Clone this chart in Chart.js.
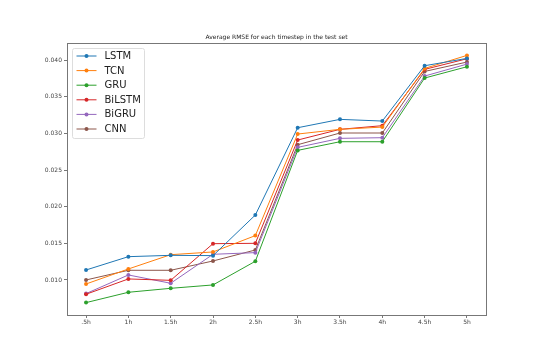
<!DOCTYPE html>
<html>
<head>
<meta charset="utf-8">
<script src="https://cdn.jsdelivr.net/npm/chart.js@4"></script>
<style>
  html, body { margin: 0; padding: 0; background: #fff; }
  #wrap { width: 540px; height: 360px; }
</style>
</head>
<body>
<div id="wrap"><canvas id="chart" width="540" height="360"></canvas></div>
<script>
// categories
const timesteps = ['.5h', '1h', '1.5h', '2h', '2.5h', '3h', '3.5h', '4h', '4.5h', '5h'];
const yTicks = [0.010, 0.015, 0.020, 0.025, 0.030, 0.035, 0.040];
const chartTitle = 'Average RMSE for each timestep in the test set';

// series values
const lstm   = [0.01136, 0.01318, 0.01336, 0.01332, 0.01886, 0.03077, 0.03191, 0.03168, 0.03923, 0.04023];
const tcn    = [0.00945, 0.01150, 0.01345, 0.01382, 0.01605, 0.02991, 0.03055, 0.03086, 0.03886, 0.04064];
const gru    = [0.00691, 0.00832, 0.00886, 0.00932, 0.01255, 0.02768, 0.02886, 0.02886, 0.03755, 0.03909];
const bilstm = [0.00805, 0.01014, 0.00995, 0.01495, 0.01500, 0.02909, 0.03055, 0.03105, 0.03873, 0.04018];
const bigru  = [0.00814, 0.01068, 0.00955, 0.01350, 0.01373, 0.02809, 0.02932, 0.02941, 0.03782, 0.03945];
const cnn    = [0.01000, 0.01132, 0.01132, 0.01259, 0.01409, 0.02845, 0.03005, 0.03005, 0.03845, 0.03973];

const seriesNames = ['LSTM', 'TCN', 'GRU', 'BiLSTM', 'BiGRU', 'CNN'];
const seriesValues = [lstm, tcn, gru, bilstm, bigru, cnn];
const colors = ['#1f77b4', '#ff7f0e', '#2ca02c', '#d62728', '#9467bd', '#8c564b'];

const datasets = seriesNames.map((name, i) => ({
  label: name,
  data: seriesValues[i].map((v, j) => ({ x: j, y: v })),
  borderColor: colors[i],
  backgroundColor: colors[i],
  borderWidth: 1,
  pointRadius: 2,
  pointBorderWidth: 0,
  pointBackgroundColor: colors[i],
  tension: 0
}));

// draws the title (centred over the plot), the box around the plot and the legend inside it
const framePlugin = {
  id: 'frame',
  afterDraw(chart) {
    const ctx = chart.ctx;
    const a = chart.chartArea;
    ctx.save();

    ctx.fillStyle = '#222';
    ctx.font = '6px "DejaVu Sans"';
    ctx.textAlign = 'center';
    ctx.textBaseline = 'middle';
    ctx.fillText(chartTitle, (a.left + a.right) / 2, a.top - 6);

    ctx.strokeStyle = '#777';
    ctx.lineWidth = 1;
    ctx.strokeRect(Math.round(a.left) + 0.5, Math.round(a.top) + 0.5,
      Math.round(a.right - a.left), Math.round(a.bottom - a.top));

    // legend
    const lx = a.left + 5.5, ly = a.top + 5.5, lw = 72, lh = 90;
    ctx.fillStyle = 'rgba(255,255,255,0.8)';
    ctx.strokeStyle = '#ddd';
    ctx.beginPath();
    ctx.roundRect(lx, ly, lw, lh, 2);
    ctx.fill();
    ctx.stroke();
    ctx.font = '10px "DejaVu Sans"';
    ctx.textAlign = 'left';
    ctx.textBaseline = 'middle';
    chart.data.datasets.forEach((ds, i) => {
      const y = ly + 7.5 + i * 14.6;
      ctx.strokeStyle = ds.borderColor;
      ctx.lineWidth = 1;
      ctx.beginPath();
      ctx.moveTo(lx + 4, y);
      ctx.lineTo(lx + 24, y);
      ctx.stroke();
      ctx.fillStyle = ds.borderColor;
      ctx.beginPath();
      ctx.arc(lx + 14, y, 2, 0, Math.PI * 2);
      ctx.fill();
      ctx.fillStyle = '#222';
      ctx.fillText(ds.label, lx + 32, y + 0.5);
    });
    ctx.restore();
  }
};

new Chart(document.getElementById('chart').getContext('2d'), {
  type: 'line',
  data: { datasets: datasets },
  options: {
    responsive: false,
    animation: false,
    layout: { padding: { left: 0, right: 54, top: 43, bottom: 0 } },
    plugins: {
      legend: { display: false },
      tooltip: { enabled: false },
      title: { display: false }
    },
    scales: {
      x: {
        type: 'linear',
        min: -0.45,
        max: 9.45,
        afterBuildTicks: axis => { axis.ticks = timesteps.map((_, i) => ({ value: i })); },
        afterFit: axis => { axis.height = 45; },
        ticks: {
          callback: v => timesteps[v],
          color: '#444',
          font: { family: 'DejaVu Sans', size: 6 },
          padding: 1,
          maxRotation: 0,
          autoSkip: false
        },
        grid: { drawOnChartArea: false, tickLength: 3, color: '#777' },
        border: { color: '#777' }
      },
      y: {
        min: 0.00522,
        max: 0.04233,
        afterBuildTicks: axis => { axis.ticks = yTicks.map(v => ({ value: v })); },
        afterFit: axis => { axis.width = 67; },
        ticks: {
          callback: v => v.toFixed(3),
          color: '#444',
          font: { family: 'DejaVu Sans', size: 6 },
          padding: 2
        },
        grid: { drawOnChartArea: false, tickLength: 3, color: '#777' },
        border: { color: '#777' }
      }
    }
  },
  plugins: [framePlugin]
});
</script>
</body>
</html>
